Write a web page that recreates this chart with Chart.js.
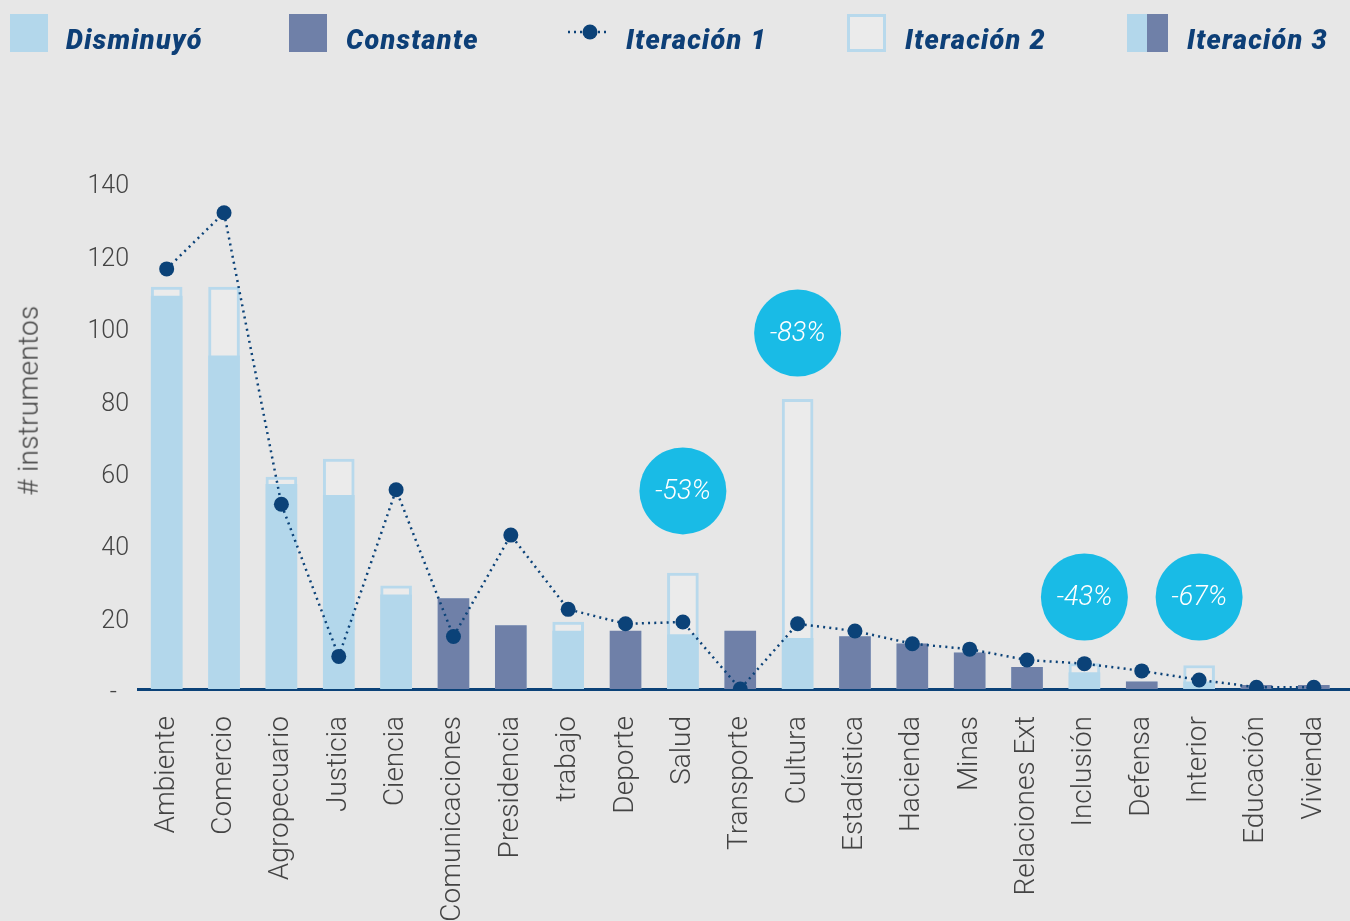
<!DOCTYPE html>
<html>
<head>
<meta charset="utf-8">
<script src="https://cdn.jsdelivr.net/npm/chart.js@4.4.1/dist/chart.umd.min.js"></script>
<style>
  html, body { margin:0; padding:0; background:#e7e7e7; }
  #wrap { position:relative; width:1350px; height:921px; overflow:hidden; background:#e7e7e7; }
  canvas { position:absolute; left:0; top:0; }
  .lg { position:absolute; font-family:'Roboto', sans-serif; font-weight:900; font-style:italic; font-size:27px; color:#0d3f77; line-height:38px; top:21px; letter-spacing:1.3px; white-space:nowrap; }
  .box { position:absolute; top:14px; width:38px; height:38px; box-sizing:border-box; }
  #ytitle { position:absolute; font-family:'Roboto', sans-serif; font-weight:300; font-size:28px; color:#444; white-space:nowrap; transform-origin:center center; letter-spacing:0.3px; }
</style>
</head>
<body>
<div id="wrap">
  <canvas id="c" width="1350" height="921"></canvas>
  <div class="box" style="left:10px;background:#b3d7eb;"></div>
  <div class="lg" style="left:66px;">Disminuyó</div>
  <div class="box" style="left:289px;background:#6f80a8;"></div>
  <div class="lg" style="left:346px;">Constante</div>
  <canvas id="lg1" width="46" height="20" style="left:566px;top:22px;"></canvas>
  <div class="lg" style="left:626px;">Iteración 1</div>
  <div class="box" style="left:847px;width:39px;border:3px solid #b8d9ec;background:#ebebeb;"></div>
  <div class="lg" style="left:905px;">Iteración 2</div>
  <div class="box" style="left:1127px;width:20px;background:#b3d7eb;"></div>
  <div class="box" style="left:1147px;width:21px;background:#6f80a8;"></div>
  <div class="lg" style="left:1187px;">Iteración 3</div>
  <div id="ytitle">#&nbsp;instrumentos</div>
</div>
<script>
const categories = ['Ambiente','Comercio','Agropecuario','Justicia','Ciencia','Comunicaciones','Presidencia','trabajo','Deporte','Salud','Transporte','Cultura','Estadística','Hacienda','Minas','Relaciones Ext','Inclusión','Defensa','Interior','Educación','Vivienda'];
const iteracion1 = [116,131.5,51,9,55,14.5,42.5,22,18,18.5,0,18,16,12.5,11,8,7,5,2.5,0.5,0.5];
const iteracion2 = [111,111,58.5,63.5,28.5,25,17.5,18.5,16,32,16,80,14.5,12.5,10,6,7,2,6.5,1,1];
const iteracion3 = [108.5,92,56.5,53.5,26,25,17.5,16,16,15,16,14,14.5,12.5,10,6,4.5,2,2,1,1];
// 'D' = Disminuyó, 'C' = Constante
const estado = ['D','D','D','D','D','C','C','D','C','D','C','D','C','C','C','C','D','C','D','C','C'];
const yTicks = [0,20,40,60,80,100,120,140];
const bubbleCats = ['Salud','Cultura','Inclusión','Interior'];
const bubbleLabels = ['-53%','-83%','-43%','-67%'];
const bubbleValues = [54.7,98.3,25.4,25.4];

const LIGHT = '#b3d7eb', DARK = '#6f80a8', NAVY = '#0b4278', CYAN = '#19bbe6';

// legend line icon
(function(){
  const c = document.getElementById('lg1').getContext('2d');
  c.strokeStyle = NAVY; c.lineWidth = 2.5; c.setLineDash([2,4]);
  c.beginPath(); c.moveTo(2,10); c.lineTo(44,10); c.stroke();
  c.setLineDash([]); c.fillStyle = NAVY;
  c.beginPath(); c.arc(24,10,7.5,0,Math.PI*2); c.fill();
})();

// y title
(function(){
  const t = document.getElementById('ytitle');
  const w = t.offsetWidth, h = t.offsetHeight;
  t.style.left = (28 - w/2) + 'px';
  t.style.top = (400 - h/2) + 'px';
  t.style.transform = 'rotate(-90deg)';
})();

const bubblePlugin = {
  id: 'bubbles',
  afterDatasetsDraw(chart) {
    const ctx = chart.ctx, xs = chart.scales.x, ys = chart.scales.y;
    ctx.save();
    bubbleCats.forEach((cat, i) => {
      const x = xs.getPixelForValue(categories.indexOf(cat));
      const y = ys.getPixelForValue(bubbleValues[i]);
      ctx.fillStyle = CYAN;
      ctx.beginPath(); ctx.arc(x, y, 43.5, 0, Math.PI*2); ctx.fill();
      ctx.fillStyle = '#ffffff';
      ctx.font = 'italic 300 27px Roboto, sans-serif';
      ctx.textAlign = 'center'; ctx.textBaseline = 'middle';
      ctx.fillText(bubbleLabels[i], x, y + 1);
    });
    ctx.restore();
  }
};

// extend axis line to the right edge like the reference
const axisExtend = {
  id: 'axisExtend',
  afterDraw(chart) {
    const ctx = chart.ctx, a = chart.chartArea;
    const y = Math.round(a.bottom - 1.5) + 1.5;
    ctx.save();
    ctx.strokeStyle = NAVY; ctx.lineWidth = 3;
    ctx.beginPath(); ctx.moveTo(a.right - 2, y); ctx.lineTo(chart.width, y); ctx.stroke();
    ctx.restore();
  }
};

Chart.defaults.font.family = 'Roboto, sans-serif';
Chart.defaults.color = '#444';

new Chart(document.getElementById('c'), {
  data: {
    labels: categories,
    datasets: [
      {
        type: 'line', label: 'Iteración 1', data: iteracion1, order: 0,
        borderColor: NAVY, borderWidth: 2.5, borderDash: [2, 4.2],
        pointRadius: 7.5, pointBackgroundColor: NAVY, pointBorderWidth: 0,
        pointHoverRadius: 7.5, tension: 0, fill: false
      },
      {
        type: 'bar', label: 'Iteración 3', data: iteracion3, order: 1,
        backgroundColor: estado.map(s => s === 'C' ? DARK : LIGHT),
        borderWidth: 0, barThickness: 31
      },
      {
        type: 'bar', label: 'Iteración 2', data: iteracion2, order: 2,
        backgroundColor: '#ebebeb', borderColor: '#b8d9ec', borderWidth: 3,
        borderSkipped: false, barThickness: 31
      }
    ]
  },
  options: {
    responsive: false,
    animation: false,
    events: [],
    layout: { padding: { top: 182, right: 0, left: 0, bottom: 0 } },
    plugins: { legend: { display: false }, tooltip: { enabled: false } },
    scales: {
      x: {
        stacked: true,
        grid: { display: false, drawTicks: false },
        border: { display: true, color: NAVY, width: 3 },
        ticks: {
          minRotation: 90, maxRotation: 90, autoSkip: false, padding: 27,
          font: { size: 28, weight: 300 }, color: '#444'
        },
        afterFit(s) { s.height = 232; s.paddingLeft = 0; s.paddingRight = 0; }
      },
      y: {
        stacked: false, min: 0, max: 140,
        grid: { display: false, drawTicks: false },
        border: { display: false },
        afterBuildTicks(s) { s.ticks = yTicks.map(v => ({ value: v })); },
        ticks: {
          padding: 9, labelOffset: 5, font: { size: 25, weight: 300 }, color: '#444',
          callback: v => v === 0 ? '-  ' : String(v)
        },
        afterFit(s) { s.width = 138; s.paddingTop = 0; s.paddingBottom = 0; }
      }
    }
  },
  plugins: [bubblePlugin, axisExtend]
});
</script>
</body>
</html>
